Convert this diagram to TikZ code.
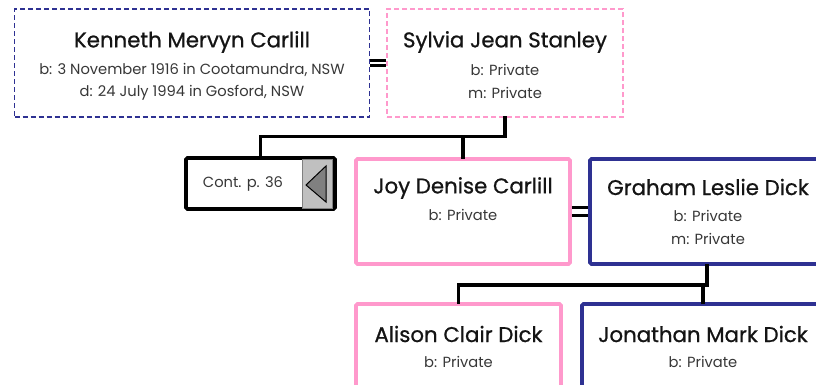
\documentclass[tikz,border=0pt]{standalone}
\usepackage{fontspec}
\setmainfont{Poppins}
\newfontfamily\namefont[FakeBold=0.8]{Poppins}
\definecolor{navy}{RGB}{46,49,146}
\definecolor{pinkc}{RGB}{255,153,204}
\definecolor{txt}{RGB}{20,20,20}
\begin{document}
\begin{tikzpicture}[x=1pt,y=-1pt,
  dbox/.style={draw, line width=1.6pt, dash pattern=on 5pt off 3pt, minimum width=#1, minimum height=108pt, inner sep=0pt},
  sbox/.style={draw, line width=3.6pt, rounded corners=1.5pt, minimum width=#1, minimum height=105pt, inner sep=0pt},
  nametxt/.style={font=\namefont\fontsize{21.3}{24}\selectfont, text=txt, inner sep=0pt},
  infotxt/.style={font=\fontsize{14.7}{17}\selectfont, text=txt!85, inner sep=0pt},
  conn/.style={line width=3.6pt, line cap=rect},
  marr/.style={line width=2.2pt},
  marr2/.style={line width=3pt}]
\useasboundingbox (0,0) rectangle (816,384);
% parents
\node[dbox=355pt, navy] (ken) at (192,63) {};
\node[dbox=236pt, pinkc] (syl) at (505,63) {};
\node[nametxt] (kenn) at (192,42) {Kenneth Mervyn Carlill};
\node[infotxt] (kenb) at (192,70) {b: 3 November 1916 in Cootamundra, NSW};
\node[infotxt] (kend) at (192,93) {d: 24 July 1994 in Gosford, NSW};
\node[nametxt] (syln) at (505,42) {Sylvia Jean Stanley};
\node[infotxt] (sylb) at (505,70) {b: Private};
\node[infotxt] (sylm) at (505,93) {m: Private};
\draw[marr] ([yshift=2.5pt]ken.east) -- ([yshift=2.5pt]syl.west);
\draw[marr] ([yshift=-2.5pt]ken.east) -- ([yshift=-2.5pt]syl.west);
% continuation box
\node[draw, line width=3.6pt, rounded corners=1.5pt, minimum width=149pt, minimum height=51pt, inner sep=0pt] (cont) at (260.5,183.5) {};
\node[infotxt] (contt) at (243,184) {Cont. p. 36};
\node[draw=gray, line width=0.8pt, fill={rgb,255:red,192;green,192;blue,192}, minimum width=30pt, minimum height=49pt, inner sep=0pt] (contg) at (317,183.5) {};
\draw[line width=1pt, fill={rgb,255:red,128;green,128;blue,128}] (306,185) -- (326,166) -- (326,202) -- cycle;
% children generation
\node[sbox=214pt, pinkc] (joy) at (463,211.5) {};
\node[sbox=236pt, navy] (gra) at (708,211.5) {};
\node[nametxt] (joyn) at (463,188) {Joy Denise Carlill};
\node[infotxt] (joyb) at (463,215) {b: Private};
\node[nametxt] (gran) at (708,187) {Graham Leslie Dick};
\node[infotxt] (grab) at (708,216) {b: Private};
\node[infotxt] (gram) at (708,239) {m: Private};
\draw[marr2] ([yshift=4pt]joy.east) -- ([yshift=4pt]gra.west);
\draw[marr2] ([yshift=-4pt]joy.east) -- ([yshift=-4pt]gra.west);
% connectors parents -> children
\coordinate (bar1) at (505,136.5);
\draw[conn] (syl.south) -- (bar1) -| (cont.north);
\draw[conn] (bar1 -| joy.north) -- (joy.north);
% grandchildren
\node[sbox=205pt, pinkc] (ali) at (458.5,356.5) {};
\node[sbox=242pt, navy] (jon) at (703,356.5) {};
\node[nametxt] (alin) at (458.5,334) {Alison Clair Dick};
\node[infotxt] (alib) at (458.5,362) {b: Private};
\node[nametxt] (jonn) at (703,334) {Jonathan Mark Dick};
\node[infotxt] (jonb) at (703,362) {b: Private};
\coordinate (bar2) at (707,285);
\draw[conn] ([xshift=-1pt]gra.south) -- ([xshift=-1pt]gra.south |- bar2) -| (ali.north);
\draw[conn] (bar2 -| jon.north) -- (jon.north);
\end{tikzpicture}
\end{document}
